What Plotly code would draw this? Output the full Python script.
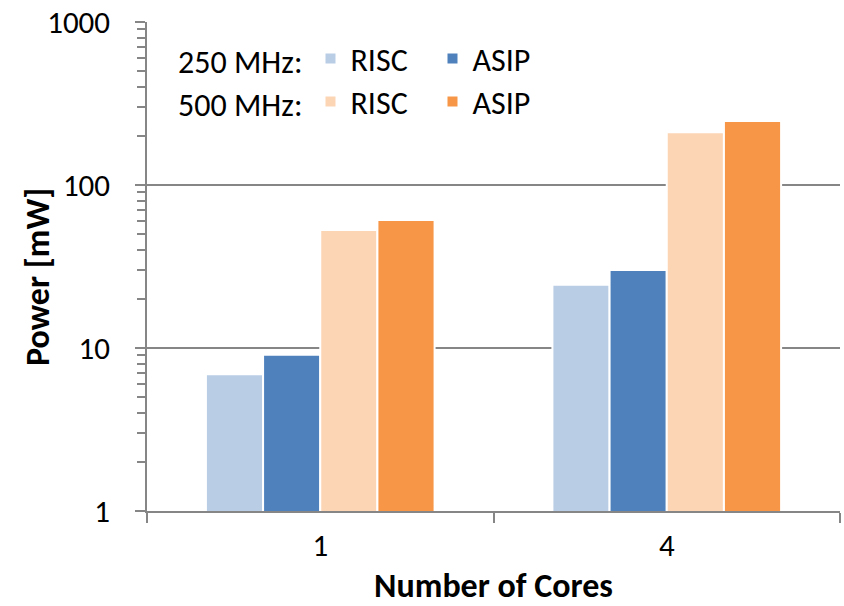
import plotly.graph_objects as go

categories = ["1", "4"]
risc_250 = [6.9, 24.4]
asip_250 = [9.1, 30.1]
risc_500 = [53, 211]
asip_500 = [61, 247]

y_ticks = [1, 10, 100, 1000]
minor_ticks = [m * d for d in (1, 10, 100) for m in range(2, 10)]

FONT = "Carlito, Lato, 'Open Sans', sans-serif"
GRAY = "#868686"

fig = go.Figure()
series = [
    ("RISC", risc_250, "#B9CDE5", "legend"),
    ("ASIP", asip_250, "#4F81BD", "legend"),
    ("RISC", risc_500, "#FCD5B5", "legend2"),
    ("ASIP", asip_500, "#F79646", "legend2"),
]
for name, vals, col, leg in series:
    fig.add_trace(go.Bar(
        x=categories, y=vals, name=name,
        marker=dict(color=col, line=dict(color="white", width=2)),
        legend=leg,
    ))

leg_common = dict(
    orientation="h", x=0.042, xanchor="left", yanchor="top",
    font=dict(size=32), bgcolor="rgba(0,0,0,0)", itemwidth=30,
    entrywidth=77, tracegroupgap=0,
)
fig.update_layout(
    width=844, height=606,
    margin=dict(l=147, r=4, t=22, b=95),
    paper_bgcolor="white", plot_bgcolor="white",
    font=dict(family=FONT, size=31, color="black"),
    barmode="group", bargap=0.34, bargroupgap=0,
    legend=dict(y=0.981, title=dict(text="250 MHz:", side="left",
                                     font=dict(size=32)), **leg_common),
    legend2=dict(y=0.893, title=dict(text="500 MHz:", side="left",
                                      font=dict(size=32)), **leg_common),
    xaxis=dict(
        title=dict(text="<b>Number of Cores</b>", font=dict(size=34), standoff=10),
        automargin=False,
        showline=True, linecolor=GRAY, linewidth=1.5,
        ticks="outside", tickson="boundaries", ticklen=10, tickcolor=GRAY,
        tickwidth=1.5, ticklabelstandoff=6,
        tickfont=dict(size=31),
    ),
    yaxis=dict(
        type="log", range=[0, 3], automargin=False,
        tickvals=y_ticks, ticktext=[str(v) for v in y_ticks],
        showline=True, linecolor=GRAY, linewidth=1.5,
        ticks="outside", ticklen=10, tickcolor=GRAY, tickwidth=1.5,
        ticklabelstandoff=19,
        showgrid=True, gridcolor=GRAY, gridwidth=1.5,
        minor=dict(tickvals=minor_ticks, ticks="outside", ticklen=8,
                   tickcolor=GRAY, tickwidth=1.5, showgrid=False),
        tickfont=dict(size=31),
        zeroline=False,
    ),
    annotations=[dict(
        text="<b>Power [mW]</b>", textangle=-90, showarrow=False,
        xref="paper", yref="paper", x=-0.157, y=0.479,
        xanchor="center", yanchor="middle", font=dict(size=34),
    )],
)

fig.write_html("out.html")
